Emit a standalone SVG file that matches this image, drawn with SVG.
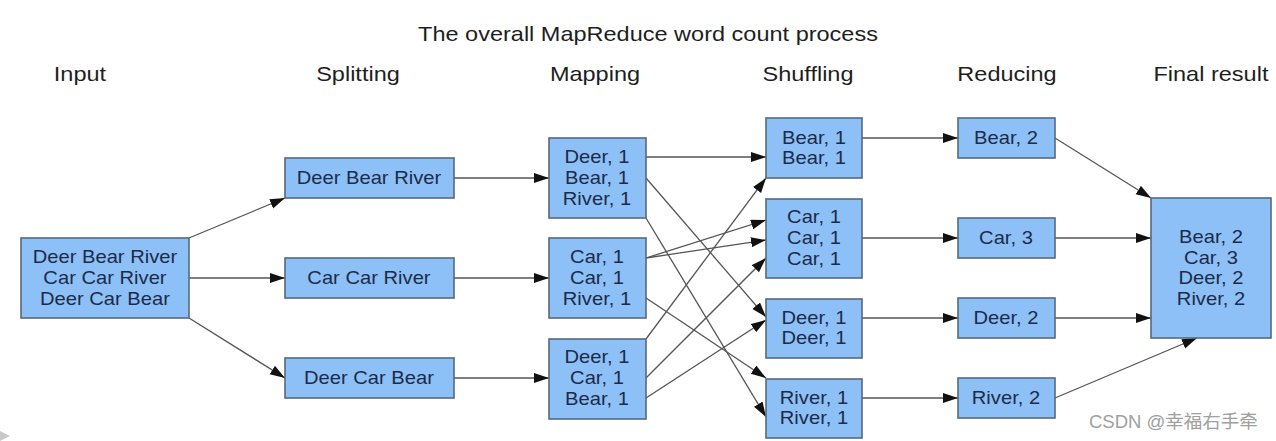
<svg xmlns="http://www.w3.org/2000/svg" width="1276" height="441" viewBox="0 0 1276 441">
<style>
.t{font-family:"Liberation Sans",Arial,sans-serif;text-anchor:middle;transform-box:fill-box;transform-origin:center;transform:scaleX(1.12)}
.h{font-size:21px;fill:#1e1e1e}
.b{font-size:18px;fill:#1c2b48}
.box{fill:#8ec0f8;stroke:#56697e;stroke-width:1.6}
.c line{stroke:#555;stroke-width:1.3;marker-end:url(#ah)}
</style>
<defs>
<marker id="ah" markerUnits="userSpaceOnUse" markerWidth="16" markerHeight="12" refX="15" refY="5" orient="auto">
<path d="M0,0 L15,5 L0,10 z" fill="#111"/>
</marker>
</defs>
<rect width="1276" height="441" fill="#fff"/>
<g id="headers">
<text class="t h" x="648" y="41">The overall MapReduce word count process</text>
<text class="t h" x="80" y="81">Input</text>
<text class="t h" x="358" y="81">Splitting</text>
<text class="t h" x="595" y="81">Mapping</text>
<text class="t h" x="808" y="81">Shuffling</text>
<text class="t h" x="1007" y="81">Reducing</text>
<text class="t h" x="1211" y="81">Final result</text>
</g>
<g class="c" id="connectors">
<line x1="189" y1="238" x2="285" y2="198"/>
<line x1="189" y1="278" x2="285" y2="278"/>
<line x1="189" y1="318" x2="285" y2="378"/>
<line x1="454" y1="178" x2="549" y2="178"/>
<line x1="454" y1="278" x2="549" y2="278"/>
<line x1="454" y1="378" x2="549" y2="378"/>
<line x1="646" y1="157" x2="766" y2="157"/>
<line x1="646" y1="178" x2="766" y2="317"/>
<line x1="646" y1="218" x2="766" y2="417"/>
<line x1="646" y1="258" x2="766" y2="220"/>
<line x1="646" y1="258" x2="766" y2="240"/>
<line x1="646" y1="298" x2="766" y2="378"/>
<line x1="646" y1="339" x2="766" y2="178"/>
<line x1="646" y1="378" x2="766" y2="258"/>
<line x1="646" y1="398" x2="766" y2="320"/>
<line x1="862" y1="138" x2="958" y2="138"/>
<line x1="862" y1="238" x2="958" y2="238"/>
<line x1="862" y1="318" x2="958" y2="318"/>
<line x1="862" y1="398" x2="958" y2="398"/>
<line x1="1055" y1="138" x2="1151" y2="198"/>
<line x1="1055" y1="238" x2="1151" y2="238"/>
<line x1="1055" y1="318" x2="1151" y2="318"/>
<line x1="1055" y1="398" x2="1197" y2="338"/>
</g>
<g id="input"><rect class="box" x="21" y="238" width="168" height="80"/>
<text class="t b" x="105" y="263">Deer Bear River</text><text class="t b" x="105" y="284">Car Car River</text><text class="t b" x="105" y="305">Deer Car Bear</text></g>
<g id="split1"><rect class="box" x="285" y="158" width="169" height="40"/><text class="t b" x="369" y="184">Deer Bear River</text></g>
<g id="split2"><rect class="box" x="285" y="258" width="169" height="40"/><text class="t b" x="369" y="284">Car Car River</text></g>
<g id="split3"><rect class="box" x="285" y="358" width="169" height="40"/><text class="t b" x="369" y="384">Deer Car Bear</text></g>
<g id="map1"><rect class="box" x="549" y="138" width="97" height="80"/>
<text class="t b" x="597" y="163">Deer, 1</text><text class="t b" x="597" y="184">Bear, 1</text><text class="t b" x="597" y="205">River, 1</text></g>
<g id="map2"><rect class="box" x="549" y="238" width="97" height="80"/>
<text class="t b" x="597" y="263">Car, 1</text><text class="t b" x="597" y="284">Car, 1</text><text class="t b" x="597" y="305">River, 1</text></g>
<g id="map3"><rect class="box" x="549" y="339" width="97" height="80"/>
<text class="t b" x="597" y="363">Deer, 1</text><text class="t b" x="597" y="384">Car, 1</text><text class="t b" x="597" y="405">Bear, 1</text></g>
<g id="shuf1"><rect class="box" x="766" y="118" width="96" height="60"/>
<text class="t b" x="814" y="144">Bear, 1</text><text class="t b" x="814" y="164">Bear, 1</text></g>
<g id="shuf2"><rect class="box" x="766" y="199" width="96" height="79"/>
<text class="t b" x="814" y="223">Car, 1</text><text class="t b" x="814" y="244">Car, 1</text><text class="t b" x="814" y="265">Car, 1</text></g>
<g id="shuf3"><rect class="box" x="766" y="299" width="96" height="59"/>
<text class="t b" x="814" y="324">Deer, 1</text><text class="t b" x="814" y="344">Deer, 1</text></g>
<g id="shuf4"><rect class="box" x="766" y="379" width="96" height="59"/>
<text class="t b" x="814" y="404">River, 1</text><text class="t b" x="814" y="424">River, 1</text></g>
<g id="red1"><rect class="box" x="958" y="118" width="97" height="40"/><text class="t b" x="1006" y="144">Bear, 2</text></g>
<g id="red2"><rect class="box" x="958" y="218" width="97" height="40"/><text class="t b" x="1006" y="244">Car, 3</text></g>
<g id="red3"><rect class="box" x="958" y="298" width="97" height="40"/><text class="t b" x="1006" y="324">Deer, 2</text></g>
<g id="red4"><rect class="box" x="958" y="378" width="97" height="40"/><text class="t b" x="1006" y="404">River, 2</text></g>
<g id="final"><rect class="box" x="1151" y="198" width="120" height="140"/>
<text class="t b" x="1211" y="243">Bear, 2</text><text class="t b" x="1211" y="264">Car, 3</text><text class="t b" x="1211" y="284">Deer, 2</text><text class="t b" x="1211" y="305">River, 2</text></g>
<text x="1089" y="428" font-family="'Liberation Sans','Noto Sans CJK SC',sans-serif" font-size="18.5" fill="#a0a0a0">CSDN @幸福右手牵</text>
<polygon points="0,431 10,436 0,441" fill="#c8c8c8"/>
</svg>
